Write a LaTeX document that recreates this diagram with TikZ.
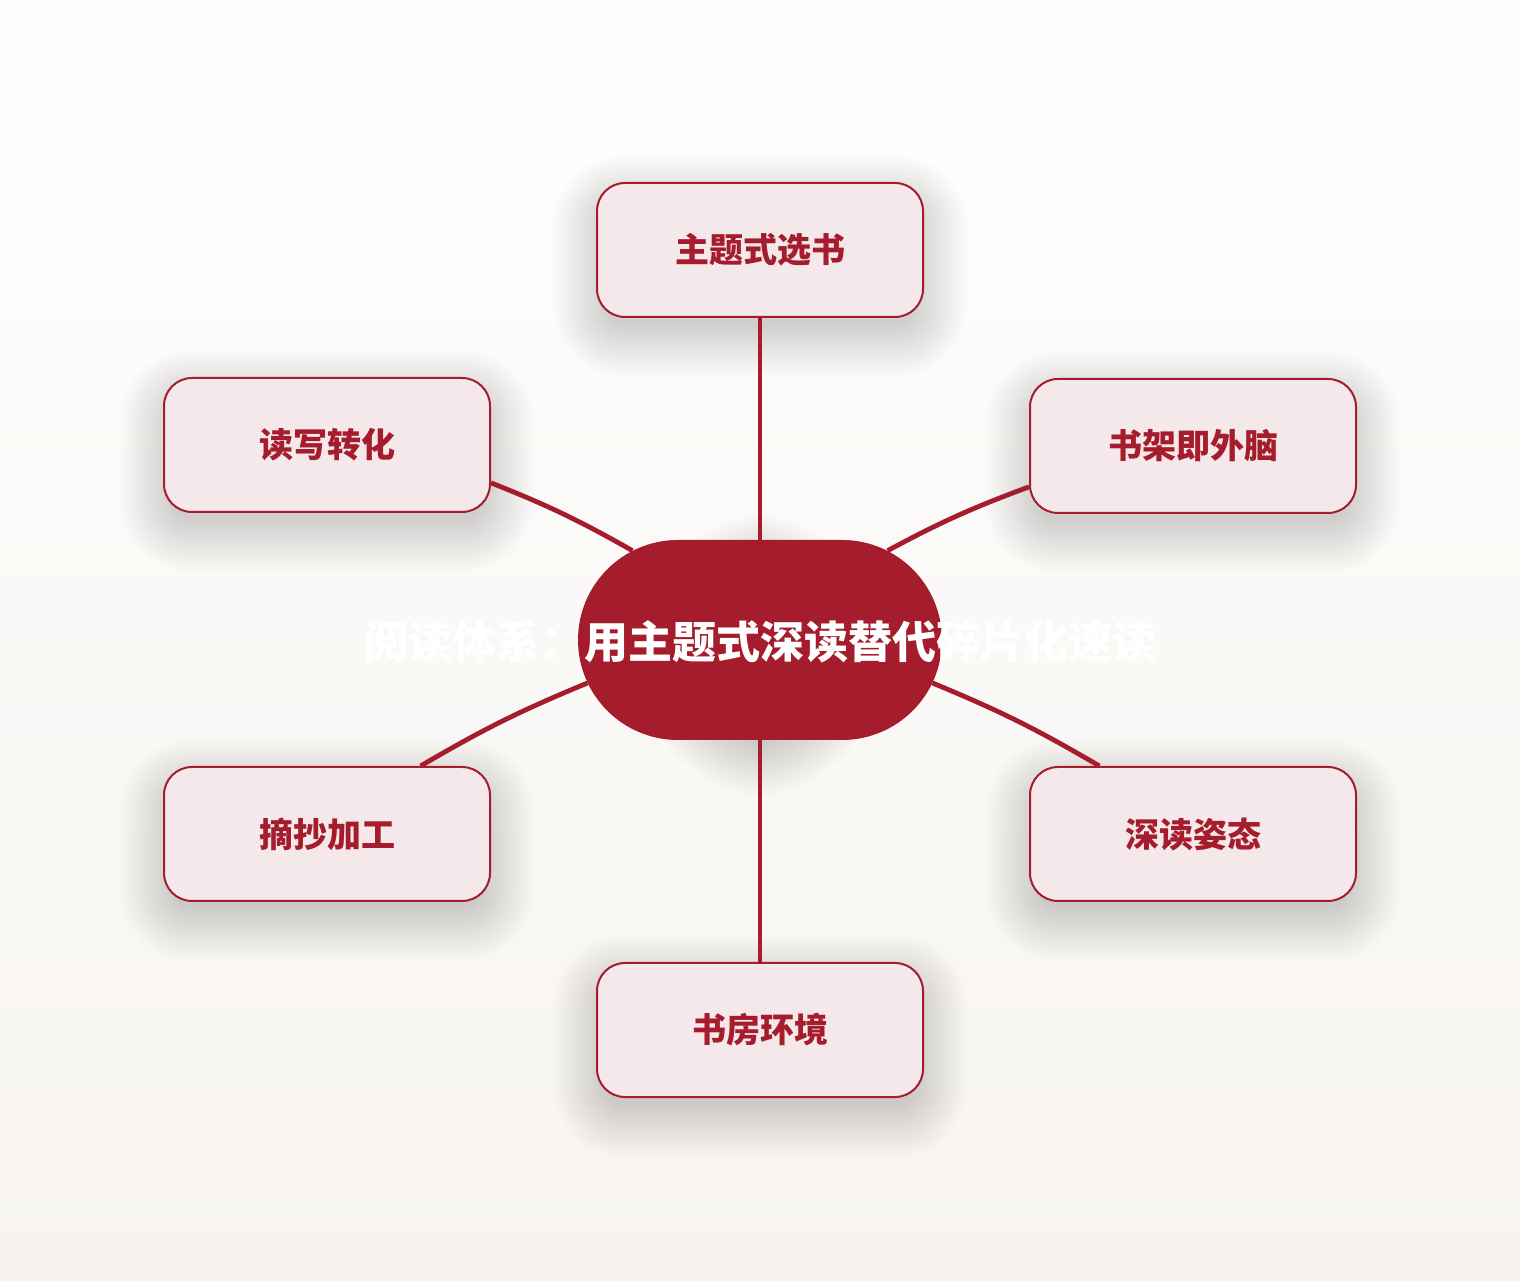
\documentclass[tikz,border=0pt]{standalone}
\usepackage{fontspec}
\newfontfamily\cjk{Noto Sans CJK SC}
\usetikzlibrary{shapes.misc}
\definecolor{deepred}{RGB}{165,28,44}
\definecolor{boxfill}{RGB}{244,232,234}
\definecolor{bgtop}{RGB}{254,254,253}
\definecolor{bgbot}{RGB}{247,244,240}
\pgfdeclarelayer{bglayer}
\pgfdeclarelayer{shadowlayer}
\pgfsetlayers{bglayer,shadowlayer,main}
\begin{document}
\begin{tikzpicture}[x=1pt,y=1pt,
  leaf/.style={rounded corners=28pt, draw=deepred, line width=2pt, fill=boxfill,
    minimum width=326pt, minimum height=134pt, inner sep=0pt, text=deepred,
    font=\cjk\bfseries\fontsize{34}{40}\selectfont},
  hub/.style={rounded rectangle, fill=deepred, minimum width=364pt, minimum height=200pt,
    inner sep=0pt},
  hubtext/.style={text=white, font=\cjk\bfseries\fontsize{44}{50}\selectfont, inner sep=0pt},
  shadowstep/.style={fill=black, opacity=0.0085},
  link/.style={draw=deepred, line width=4.8pt}]
\begin{pgfonlayer}{bglayer}
\shade[top color=bgtop, bottom color=bgbot] (0,0) rectangle (1520,1280);
\end{pgfonlayer}
\useasboundingbox (0,0) rectangle (1520,1280);

\node[leaf] (t)  at (760,1030) {主题式选书};
\node[leaf] (lt) at (327,835)  {读写转化};
\node[leaf] (rt) at (1193,834) {书架即外脑};
\node[leaf] (lb) at (327,446)  {摘抄加工};
\node[leaf] (rb) at (1193,446) {深读姿态};
\node[leaf] (b)  at (760,250)  {书房环境};

\node[hub] (c) at (760,640) {};

\begin{pgfonlayer}{shadowlayer}
\foreach \n in {t,lt,rt,lb,rb,b}{
  \foreach \k [evaluate=\k as \d using -12+2.5*\k, evaluate=\k as \r using 16+2.5*\k] in {1,...,22}{
    \fill[shadowstep, rounded corners=\r pt]
      ([xshift=-\d pt, yshift=-\d pt-16pt]\n.south west) rectangle ([xshift=\d pt, yshift=\d pt-16pt]\n.north east);
  }
}
\foreach \k [evaluate=\k as \d using -12+2.5*\k, evaluate=\k as \r using 88+2.5*\k] in {1,...,22}{
  \fill[shadowstep, rounded corners=\r pt]
    ([xshift=-\d pt, yshift=-\d pt-16pt]c.south west) rectangle ([xshift=\d pt, yshift=\d pt-16pt]c.north east);
}
\end{pgfonlayer}

\draw[link] (c.north) -- (t.south);
\draw[link] (c.south) -- (b.north);
\draw[link] (c.145.8) to[bend right=4] (lt.-13);
\draw[link] (c.35) to[bend left=4] (rt.194);
\draw[link] (c.194.4) to[bend right=4] (lb.36.4);
\draw[link] (c.-14.4) to[bend left=4] (rb.144.2);

\node[hubtext] (ct) at (760,638) {阅读体系：用主题式深读替代碎片化速读};
\end{tikzpicture}
\end{document}
